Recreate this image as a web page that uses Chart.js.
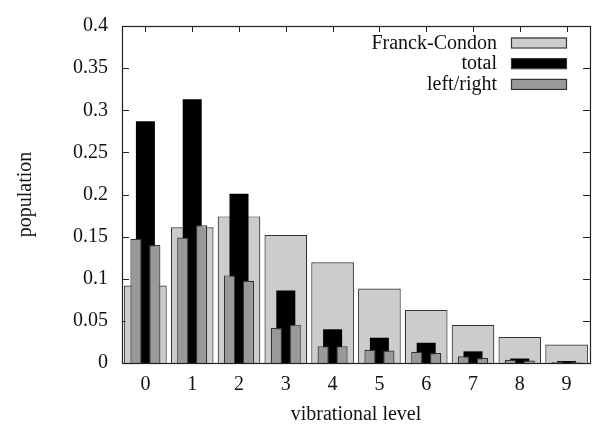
<!DOCTYPE html>
<html>
<head>
<meta charset="utf-8">
<script src="https://cdn.jsdelivr.net/npm/chart.js@4/dist/chart.umd.min.js"></script>
<style>
  html, body { margin: 0; padding: 0; background: #fff; }
</style>
</head>
<body>
<canvas id="grafico" width="595" height="430"></canvas>
<script>
// valores
const levels = ['0', '1', '2', '3', '4', '5', '6', '7', '8', '9'];
const franckCondon = [0.092, 0.161, 0.174, 0.152, 0.1195, 0.0885, 0.063, 0.045, 0.031, 0.022];
const total = [0.287, 0.313, 0.201, 0.086, 0.040, 0.030, 0.024, 0.0138, 0.0053, 0.0023];
const leftPop = [0.1475, 0.149, 0.104, 0.0414, 0.020, 0.0156, 0.0133, 0.008, 0.0038, 0.0012];
const rightPop = [0.140, 0.1636, 0.0977, 0.0455, 0.020, 0.0149, 0.0118, 0.006, 0.003, 0.001];
const yTicks = [0, 0.05, 0.1, 0.15, 0.2, 0.25, 0.3, 0.35, 0.4];

const serif = { family: 'Liberation Serif', size: 20 };

// moldura com marcas para dentro (estilo gnuplot)
const moldura = {
    id: 'moldura',
    beforeDatasetsDraw(chart) {
        const { ctx, chartArea: a, scales } = chart;
        ctx.save();
        ctx.strokeStyle = '#222';
        ctx.lineWidth = 1;
        ctx.beginPath();
        scales.x.ticks.forEach((t, i) => {
            const px = Math.round(scales.x.getPixelForTick(i)) + 0.5;
            ctx.moveTo(px, a.top); ctx.lineTo(px, a.top + 6);
            ctx.moveTo(px, a.bottom); ctx.lineTo(px, a.bottom - 6);
        });
        scales.y.ticks.forEach((t, i) => {
            const py = Math.round(scales.y.getPixelForTick(i)) + 0.5;
            ctx.moveTo(a.left, py); ctx.lineTo(a.left + 7, py);
            ctx.moveTo(a.right, py); ctx.lineTo(a.right - 7, py);
        });
        ctx.stroke();
        ctx.restore();
    },
    afterDatasetsDraw(chart) {
        const { ctx, chartArea: a } = chart;
        ctx.save();
        ctx.strokeStyle = '#222';
        ctx.lineWidth = 1.2;
        ctx.strokeRect(Math.round(a.left) + 0.5, Math.round(a.top) + 0.5,
            Math.round(a.right - a.left), Math.round(a.bottom - a.top));
        ctx.restore();
    }
};

// legenda no canto superior direito, texto alinhado a direita
const legenda = {
    id: 'legenda',
    afterDraw(chart) {
        const { ctx, chartArea: a } = chart;
        const itens = chart.data.datasets.filter(d => !d.semLegenda);
        ctx.save();
        ctx.font = serif.size + 'px ' + serif.family;
        ctx.textAlign = 'right';
        ctx.textBaseline = 'middle';
        itens.forEach((d, i) => {
            const cy = a.top + 16.5 + i * 20.7;
            const bx = a.right - 79;
            ctx.fillStyle = d.backgroundColor;
            ctx.fillRect(bx, cy - 5, 55, 10);
            ctx.strokeStyle = '#333';
            ctx.lineWidth = 1.2;
            ctx.strokeRect(bx + 0.5, cy - 5 + 0.5, 55, 10);
            ctx.fillStyle = '#111';
            ctx.fillText(d.label, bx - 14, cy + 1);
        });
        ctx.restore();
    }
};

const ctx = document.getElementById('grafico').getContext('2d');
new Chart(ctx, {
    type: 'bar',
    data: {
        labels: levels,
        datasets: [
            {
                label: 'Franck-Condon',
                data: franckCondon,
                backgroundColor: '#cccccc',
                borderColor: '#333',
                borderWidth: 1.2,
                grouped: false,
                categoryPercentage: 1,
                barPercentage: 0.912,
                order: 3
            },
            {
                label: 'total',
                data: total,
                backgroundColor: '#000000',
                borderColor: '#000',
                borderWidth: 0,
                grouped: false,
                categoryPercentage: 1,
                barPercentage: 0.406,
                order: 2
            },
            {
                label: 'left/right',
                data: leftPop,
                backgroundColor: '#999999',
                borderColor: '#333',
                borderWidth: 1.2,
                grouped: true,
                categoryPercentage: 0.8,
                barPercentage: 0.604,
                order: 1
            },
            {
                label: 'right',
                semLegenda: true,
                data: rightPop,
                backgroundColor: '#999999',
                borderColor: '#333',
                borderWidth: 1.2,
                grouped: true,
                categoryPercentage: 0.8,
                barPercentage: 0.604,
                order: 1
            }
        ]
    },
    options: {
        responsive: false,
        animation: false,
        layout: { padding: { left: 0, right: 5, top: 14, bottom: 0 } },
        plugins: {
            legend: { display: false },
            tooltip: { enabled: false }
        },
        scales: {
            x: {
                offset: true,
                grid: { display: false, drawTicks: false },
                border: { display: false },
                ticks: { font: serif, color: '#111', padding: 10, maxRotation: 0 },
                title: { display: true, text: 'vibrational level', font: serif, color: '#111', padding: { top: 0, bottom: 3 } },
                afterFit: s => { s.height = 67; }
            },
            y: {
                min: 0,
                max: 0.4,
                grid: { display: false, drawTicks: false },
                border: { display: false },
                afterBuildTicks: s => { s.ticks = yTicks.map(v => ({ value: v })); },
                ticks: {
                    font: serif,
                    color: '#111',
                    padding: 14,
                    callback: v => String(+v.toFixed(2))
                },
                title: { display: true, text: 'population', font: serif, color: '#111', padding: { top: 14, bottom: 0 } },
                afterFit: s => { s.width = 122; }
            }
        }
    },
    plugins: [moldura, legenda]
});
</script>
</body>
</html>
